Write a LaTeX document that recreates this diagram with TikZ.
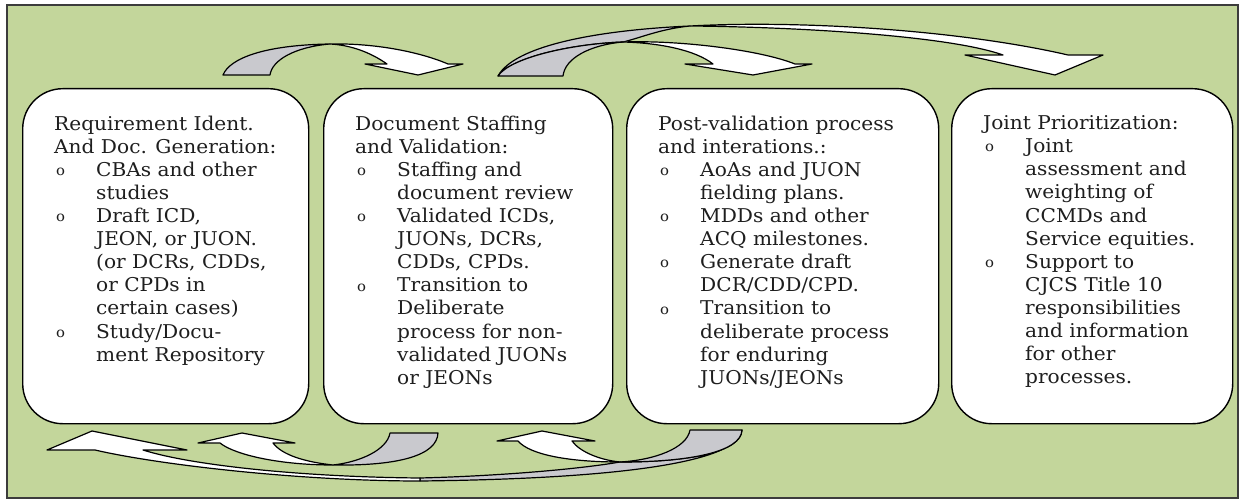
\documentclass[tikz,border=0pt]{standalone}
\usepackage{fontspec}
\setmainfont[FakeStretch=1.06]{DejaVu Serif}
\definecolor{bggreen}{RGB}{195,214,155}
\definecolor{framegray}{RGB}{60,60,60}
\definecolor{arrgray}{RGB}{201,201,206}
\definecolor{textcol}{RGB}{30,30,30}
\newcommand{\stagebul}{\hspace*{2pt}\makebox[40pt][l]{\raisebox{0.8pt}{\fontsize{14}{14}\selectfont o}}}
\newcommand{\stageind}{\hspace*{42pt}}
\tikzset{
  bgframe/.style={fill=bggreen, draw=framegray, line width=1.5pt},
  stage/.style={draw=black, fill=white, line width=1.4pt, rounded corners=40pt, anchor=north west, inner sep=0pt},
  stagetext/.style={anchor=north west, inner sep=0pt, align=left, text=textcol, font=\fontsize{19}{23.1}\selectfont},
  arrback/.style={fill=arrgray, draw=black, line width=1.2pt, line join=round},
  arrfront/.style={fill=white, draw=black, line width=1.2pt, line join=round},
}
\begin{document}
\begin{tikzpicture}[x=1pt, y=-1pt]
\useasboundingbox (0,0) rectangle (1244,502);
\fill[white] (0,0) rectangle (1244,502);
\draw[bgframe] (7,5) rectangle (1238,498);

% stage boxes
\node[stage, minimum width=286pt, minimum height=335pt] (b1) at (22,88) {};
\node[stage, minimum width=289pt, minimum height=335pt] (b2) at (323,88) {};
\node[stage, minimum width=312pt, minimum height=335pt] (b3) at (626,88) {};
\node[stage, minimum width=281pt, minimum height=335pt] (b4) at (951,88) {};

% texts
\node[stagetext] (t1) at (54,115.5) {Requirement Ident.\\
And Doc. Generation:\\
\stagebul CBAs and other\\
\stageind studies\\
\stagebul Draft ICD,\\
\stageind JEON, or JUON.\\
\stageind (or DCRs, CDDs,\\
\stageind or CPDs in\\
\stageind certain cases)\\
\stagebul Study/Docu-\\
\stageind ment Repository};

\node[stagetext] (t2) at (355,115.5) {Document Staffing\\
and Validation:\\
\stagebul Staffing and\\
\stageind document review\\
\stagebul Validated ICDs,\\
\stageind JUONs, DCRs,\\
\stageind CDDs, CPDs.\\
\stagebul Transition to\\
\stageind Deliberate\\
\stageind process for non-\\
\stageind validated JUONs\\
\stageind or JEONs};

\node[stagetext] (t3) at (658,115.5) {Post-validation process\\
and interations.:\\
\stagebul AoAs and JUON\\
\stageind fielding plans.\\
\stagebul MDDs and other\\
\stageind ACQ milestones.\\
\stagebul Generate draft\\
\stageind DCR/CDD/CPD.\\
\stagebul Transition to\\
\stageind deliberate process\\
\stageind for enduring\\
\stageind JUONs/JEONs};

\node[stagetext] (t4) at (983,115.5) {Joint Prioritization:\\
\stagebul Joint\\
\stageind assessment and\\
\stageind weighting of\\
\stageind CCMDs and\\
\stageind Service equities.\\
\stagebul Support to\\
\stageind CJCS Title 10\\
\stageind responsibilities\\
\stageind and information\\
\stageind for other\\
\stageind processes.};

% top arrow 1 -> 2
\draw[arrback] (223,75) .. controls (230,58) and (265,45) .. (330,44)
  .. controls (295,47) and (272,60) .. (270,75) -- cycle;
\draw[arrfront] (330,44) .. controls (375,43) and (420,52) .. (448,64)
  -- (463,64) -- (418,75) -- (365,64) -- (387,64)
  .. controls (370,52) and (350,45) .. (330,44) -- cycle;

% top arrow 2 -> 4 (long)
\draw[arrback] (498,76) .. controls (515,45) and (600,30) .. (690,26)
  .. controls (660,29) and (640,38) .. (623,42)
  .. controls (570,44) and (510,58) .. (498,76) -- cycle;
\draw[arrfront] (690,26) .. controls (800,20) and (960,30) .. (1068,55)
  -- (1103,55) -- (1055,75) -- (965,55) -- (1003,55)
  .. controls (950,36) and (800,27) .. (690,26) -- cycle;

% top arrow 2 -> 3
\draw[arrback] (498,76) .. controls (510,58) and (570,44) .. (623,42)
  .. controls (590,45) and (565,58) .. (563,76) -- cycle;
\draw[arrfront] (623,42) .. controls (680,40) and (760,50) .. (795,64)
  -- (812,64) -- (753,75) -- (685,64) -- (713,64)
  .. controls (695,50) and (660,43) .. (623,42) -- cycle;

% bottom arrow 3 -> 1 (long)
\draw[arrback] (742,430) .. controls (738,465) and (600,479) .. (420,481)
  -- (420,478) .. controls (500,476) and (580,469) .. (620,462)
  .. controls (690,462) and (741,452) .. (742,430) -- cycle;
\draw[arrfront] (420,481) .. controls (300,481) and (160,465) .. (95,450)
  -- (47,450) -- (92,431) -- (187,450) -- (143,450)
  .. controls (190,465) and (300,477) .. (420,478) -- cycle;

% bottom arrow 3 -> 2
\draw[arrback] (742,430) .. controls (741,452) and (690,462) .. (620,462)
  .. controls (655,460) and (687,448) .. (690,430) -- cycle;
\draw[arrfront] (620,462) .. controls (570,462) and (530,455) .. (518,441)
  -- (497,441) -- (542,431) -- (595,441) -- (572,441)
  .. controls (580,452) and (600,460) .. (620,462) -- cycle;

% bottom arrow 2 -> 1
\draw[arrback] (438,433) .. controls (437,455) and (400,466) .. (333,465)
  .. controls (360,462) and (387,450) .. (390,433) -- cycle;
\draw[arrfront] (333,465) .. controls (280,465) and (235,455) .. (220,443)
  -- (198,443) -- (242,433) -- (295,443) -- (273,443)
  .. controls (282,455) and (305,462) .. (333,465) -- cycle;
\end{tikzpicture}
\end{document}
